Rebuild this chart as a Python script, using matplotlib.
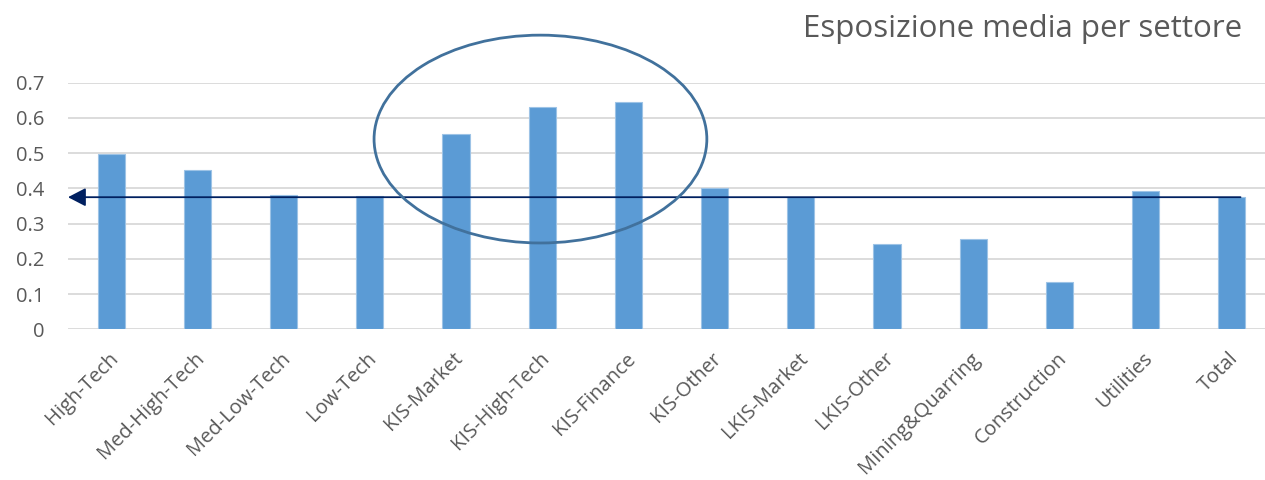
import matplotlib
matplotlib.use("Agg")
import matplotlib.pyplot as plt
from matplotlib.patches import Ellipse
from matplotlib.transforms import ScaledTranslation
import numpy as np

categories = ["High-Tech", "Med-High-Tech", "Med-Low-Tech", "Low-Tech", "KIS-Market",
              "KIS-High-Tech", "KIS-Finance", "KIS-Other", "LKIS-Market", "LKIS-Other",
              "Mining&Quarring", "Construction", "Utilities", "Total"]
values = [0.498, 0.452, 0.380, 0.378, 0.554, 0.630, 0.644, 0.400, 0.375, 0.242,
          0.256, 0.135, 0.392, 0.375]
yticks = [0, 0.1, 0.2, 0.3, 0.4, 0.5, 0.6, 0.7]
ytick_labels = ["0", "0.1", "0.2", "0.3", "0.4", "0.5", "0.6", "0.7"]
title = "Esposizione media per settore"

plt.rcParams['font.family'] = ['Open Sans', 'DejaVu Sans']
W, H = 1265, 480
fig = plt.figure(figsize=(W / 100, H / 100), dpi=100)
ax = fig.add_axes([68 / W, (480 - 329.3) / H, (1275 - 68) / W, (329.3 - 82.7) / H])

x = np.arange(len(categories))
ax.bar(x, values, width=0.315, color='#5B9BD5', edgecolor='#9DC3E6', linewidth=0.8, zorder=3)

ax.set_xlim(-0.5, len(categories) - 0.5)
ax.set_ylim(0, 0.7)
ax.set_yticks(yticks)
ax.set_yticklabels(ytick_labels)
ax.set_xticks(x)
ax.set_xticklabels(categories, rotation=45, ha='right', va='center', rotation_mode='anchor')
ax.grid(axis='y', color='#D9D9D9', linewidth=1.3, zorder=0)
ax.set_axisbelow(True)
for s in ax.spines.values():
    s.set_visible(False)
ax.tick_params(axis='y', length=0, labelsize=14.5, labelcolor='#595959', pad=17)
ax.tick_params(axis='x', length=0, labelsize=14.5, labelcolor='#595959', pad=19)
shift = ScaledTranslation(4 / 100, 0, fig.dpi_scale_trans)
for lbl in ax.get_xticklabels():
    lbl.set_transform(lbl.get_transform() + shift)

# reference arrow at the Total value
ax.annotate('', xy=(-0.5, values[-1]), xytext=(13.1, values[-1]),
            arrowprops=dict(arrowstyle='-|>,head_length=0.54,head_width=0.28',
                            mutation_scale=20, color='#002060', lw=1.3,
                            shrinkA=0, shrinkB=0), zorder=5, annotation_clip=False)

# highlight ellipse around KIS bars
ell = Ellipse((4.98, 0.54), width=3.86, height=0.59, fill=False,
              edgecolor='#41719C', linewidth=2, zorder=6, clip_on=False)
ax.add_patch(ell)

fig.text(1242 / W, 1 - 37 / H, title, ha='right', va='baseline',
         fontsize=22.5, color='#595959')

fig.savefig("out.png", dpi=100)
